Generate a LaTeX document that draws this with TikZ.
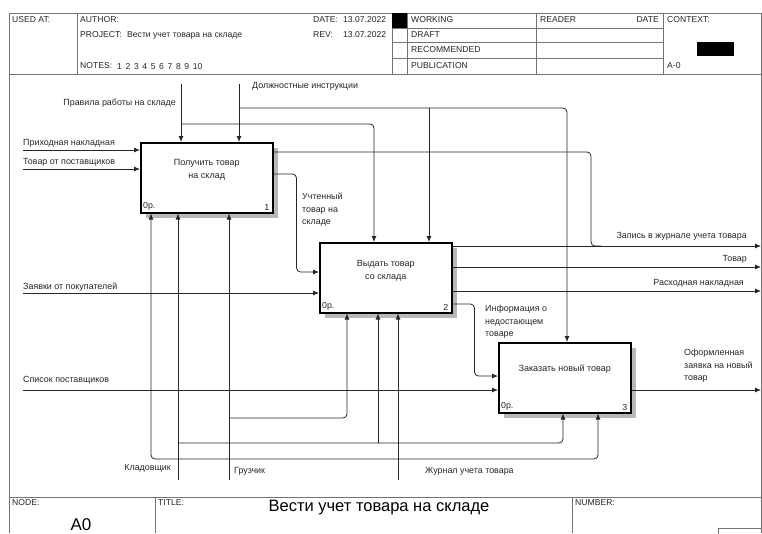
\documentclass[tikz,border=0pt]{standalone}
\usepackage{fontspec}
\setmainfont{Liberation Sans}
\usetikzlibrary{arrows.meta,shadows}

\begin{document}
\begin{tikzpicture}[x=1pt,y=-1pt,
  rim/.style={draw=black!55, line width=0.9pt},
  hdr/.style={font=\fontsize{8.6}{10}\selectfont, anchor=west, inner sep=0, text=black!85},
  lbl/.style={font=\fontsize{8.9}{12.4}\selectfont, anchor=west, inner sep=0, align=left, text=black!85},
  func/.style={draw=black, line width=1.5pt, fill=white, minimum width=132pt, minimum height=70pt,
    inner sep=0, anchor=north west,
    drop shadow={shadow xshift=5pt, shadow yshift=-5pt, opacity=1, fill=black!28}},
  ftxt/.style={font=\fontsize{9}{12.8}\selectfont, align=center, inner sep=0, text=black!85},
  corner/.style={font=\fontsize{8.8}{10}\selectfont, inner sep=0, text=black!85},
  flow/.style={draw=black!85, line width=0.8pt, rounded corners=4pt},
  arr/.style={flow, -{Latex[length=6pt,width=5pt]}},
]
\useasboundingbox (0,0) rectangle (762,533);

% ---------- drawing frame and header ----------
\draw[rim] (9,533) -- (9,13) -- (761,13) -- (761,533);
\draw[rim] (9,74) -- (761,74);
\draw[rim] (77,13) -- (77,74);
\foreach \x in {392,407,536,663} \draw[rim] (\x,13) -- (\x,74);
\foreach \y in {28,42,58} \draw[rim] (392,\y) -- (663,\y);
\fill[black] (392,13) rectangle (407,28);
\fill[black] (697,42) rectangle (734,56);

\node[hdr] at (12,20) {USED AT:};
\node[hdr] at (80,20) {AUTHOR:};
\node[hdr] at (80,35) {PROJECT:};
\node[hdr] at (127,35) {Вести учет товара на складе};
\node[hdr] at (80,66) {NOTES:};
\foreach \n [count=\i] in {1,2,3,4,5,6,7,8,9,10}
  \node[hdr, anchor=base west] at (117+8.4*\i-8.4,69.1) {\n};
\node[hdr] at (313,20) {DATE:};
\node[hdr] at (343,20) {13.07.2022};
\node[hdr] at (313,35) {REV:};
\node[hdr] at (343,35) {13.07.2022};
\node[hdr] at (411,20) {WORKING};
\node[hdr] at (411,35) {DRAFT};
\node[hdr] at (411,50) {RECOMMENDED};
\node[hdr] at (411,66) {PUBLICATION};
\node[hdr] at (540,20) {READER};
\node[hdr, anchor=east] at (659,20) {DATE};
\node[hdr] at (667,20) {CONTEXT:};
\node[hdr] at (667,66) {A-0};

% ---------- footer ----------
\draw[rim] (9,497) -- (761,497);
\draw[rim] (155,497) -- (155,533);
\draw[rim] (572,497) -- (572,533);
\draw[rim] (718,534) -- (718,528) -- (761,528);
\node[hdr, font=\fontsize{8.6}{9}\selectfont] at (12,503) {NODE:};
\node[hdr, font=\fontsize{8.6}{9}\selectfont] at (158,503) {TITLE:};
\node[hdr, font=\fontsize{8.6}{9}\selectfont] at (575,503) {NUMBER:};
\node[inner sep=0, font=\fontsize{17}{18}\selectfont] at (81,525) {A0};
\node[inner sep=0, font=\fontsize{16.5}{18}\selectfont] at (379,508) {Вести учет товара на складе};

% ---------- activity boxes ----------
\node[func] (b1) at (140,142) {};
\node[func] (b2) at (319,242) {};
\node[func] (b3) at (498,342) {};

\node[ftxt] at ([yshift=-28pt]b1.north) {Получить товар\\на склад};
\node[ftxt] at ([yshift=-28.5pt]b2.north) {Выдать товар\\со склада};
\node[ftxt] at ([yshift=-27pt]b3.north) {Заказать новый товар};
\foreach \b/\k in {b1/1,b2/2,b3/3}{
  \node[corner, anchor=south west] at ([shift={(3pt,3pt)}]\b.south west) {0р.};
  \node[corner, anchor=south east] at ([shift={(-4pt,3pt)}]\b.south east) {\k};
}

% ---------- free ends and junctions ----------
\coordinate (edge) at (761,0);
\coordinate (in1) at (23,150);
\coordinate (in2) at (23,169);
\coordinate (in3) at (23,293);
\coordinate (in4) at (23,390);
\coordinate (cRules) at (181,84);
\coordinate (cInstr) at (239,84);
\coordinate (jRules) at (181,124);
\coordinate (jInstr) at (239,108);
\coordinate (jInstr2) at (429,108);
\coordinate (mClerk) at (178,480);
\coordinate (mLoader) at (229,480);
\coordinate (mLog) at (398,480);
\coordinate (jClerk) at (178,443);
\coordinate (jClerk2) at (378,443);
\coordinate (jLoader) at (229,418);
\coordinate (jLog) at (398,459);
\coordinate (jRec) at (591,246);

\coordinate (o1) at ([yshift=-10pt]b1.north east);
\coordinate (o5) at ([yshift=-32pt]b1.north east);
\coordinate (i5) at ([yshift=-30pt]b2.north west);
\coordinate (o2) at ([yshift=-4pt]b2.north east);
\coordinate (o3) at ([yshift=-25pt]b2.north east);
\coordinate (o4) at ([yshift=-49pt]b2.north east);
\coordinate (o6) at ([yshift=-62pt]b2.north east);
\coordinate (i6) at ([yshift=-34pt]b3.north west);
\coordinate (o7) at ([yshift=-48pt]b3.north east);

% ---------- inputs ----------
\draw[arr] (in1) -- (in1 -| b1.west);
\draw[arr] (in2) -- (in2 -| b1.west);
\draw[arr] (in3) -- (in3 -| b2.west);
\draw[arr] (in4) -- (in4 -| b3.west);

% ---------- controls ----------
\draw[arr] (cRules) -- (cRules |- b1.north);
\draw[arr] (cInstr) -- (cInstr |- b1.north);
\draw[arr] (jRules) -| ([xshift=55pt]b2.north west);
\draw[arr] (jInstr) -| ([xshift=69pt]b3.north west);
\draw[arr] (jInstr2) -- (jInstr2 |- b2.north);

% ---------- outputs ----------
\draw[flow] (o1) -| (jRec) -- ++(10,0);
\draw[arr] (o2) -- (o2 -| edge);
\draw[arr] (o3) -- (o3 -| edge);
\draw[arr] (o4) -- (o4 -| edge);
\draw[arr] (o5) -- ++(23,0) |- (i5);
\draw[arr] (o6) -- ++(22,0) |- (i6);
\draw[arr] (o7) -- (o7 -| edge);

% ---------- mechanisms ----------
\draw[arr] (mClerk) -- (mClerk |- b1.south);
\draw[arr] (jClerk) -| ([xshift=65pt]b3.south west);
\draw[arr] (jClerk2) -- (jClerk2 |- b2.south);
\draw[arr] (mLoader) -- (mLoader |- b1.south);
\draw[arr] (jLoader) -| ([xshift=28pt]b2.south west);
\draw[arr] (mLog) -- (mLog |- b2.south);
\draw[arr] (jLog) -| ([xshift=11pt]b1.south west);
\draw[arr] (jLog) -| ([xshift=100pt]b3.south west);

% ---------- arrow labels ----------
\node[lbl] at (23,143) {Приходная накладная};
\node[lbl] at (23,162) {Товар от поставщиков};
\node[lbl] at (23,287) {Заявки от покупателей};
\node[lbl] at (23,380) {Список поставщиков};
\node[lbl, anchor=east] at (176,103) {Правила работы на складе};
\node[lbl] at (252,86) {Должностные инструкции};
\node[lbl, anchor=north west] at (302,193) {Учтенный\\товар на\\складе};
\node[lbl, anchor=north west] at (485,305) {Информация о\\недостающем\\товаре};
\node[lbl, anchor=north west] at (684,349) {Оформленная\\заявка на новый\\товар};
\node[lbl, anchor=east] at (747,236) {Запись в журнале учета товара};
\node[lbl, anchor=east] at (747,259) {Товар};
\node[lbl, anchor=east] at (744,283) {Расходная накладная};
\node[lbl, anchor=east] at (171,468) {Кладовщик};
\node[lbl] at (234,471) {Грузчик};
\node[lbl] at (425,471) {Журнал учета товара};
\end{tikzpicture}
\end{document}
